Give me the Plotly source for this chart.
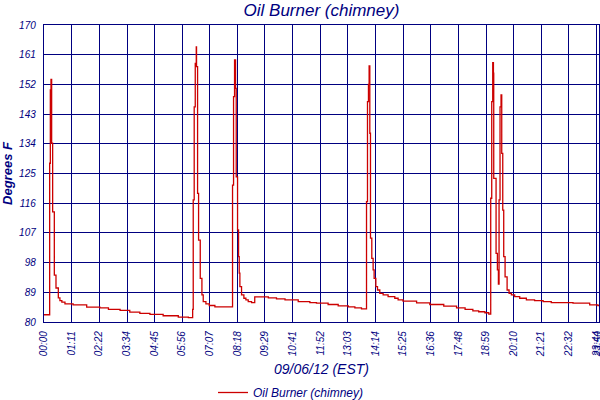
import plotly.graph_objects as go

# Time of reading (minutes after midnight) and chimney temperature (deg F)
minutes = [
    0, 14.6, 16.3, 18.0, 19.7, 22.3, 26.6, 30.9, 36.9, 41, 46, 54, 75, 110, 144, 166, 196,
    221, 247, 273, 307, 346, 372,
    383, 384.5, 387, 389.7, 392.3, 393, 395.7, 398.3, 402.6, 406.9, 410.3, 417.2, 425.8, 440.3,
    485.8, 488.4, 491, 493.6, 495.3, 498.7, 501.3, 503, 504.7, 509, 515, 520.2, 526.2, 534.8,
    543, 578, 599, 621, 655, 685, 702, 732, 758, 784, 801, 818,
    831, 833.5, 836, 837.7, 839.5, 841.2, 844.6, 848, 850.6, 855, 859.3, 865.2, 873.8, 886.6,
    903.8, 912.4, 925, 960, 994, 1030, 1063, 1085, 1105, 1120, 1136, 1146,
    1151, 1153.6, 1156.2, 1158, 1158.8, 1164.8, 1168.2, 1170.8, 1172.5, 1175, 1177.6, 1179.4,
    1182, 1184.5, 1188, 1193.2, 1198.3, 1204.3, 1212.8, 1225.7, 1242.9, 1264, 1286, 1307,
    1363, 1406, 1427, 1430,
]
temps_f = [
    82.2, 128.1, 150.3, 153.5, 134.2, 113.4, 94.2, 90.3, 87.3, 86.5, 86.0, 85.5, 85.2, 84.5, 84.3, 83.8, 83.5,
    83.0, 82.6, 82.3, 81.9, 81.5, 81.3,
    83.8, 117.0, 145.2, 158.4, 163.4, 157.4, 119.0, 104.8, 93.2, 88.2, 86.2, 85.5, 85.0, 84.6,
    121.5, 148.3, 159.4, 150.8, 124.0, 107.9, 99.8, 94.8, 90.7, 88.2, 87.2, 86.7, 86.2, 85.9,
    87.6, 87.3, 87.0, 86.7, 86.2, 85.9, 85.7, 85.3, 84.9, 84.6, 84.3, 84.0,
    116.5, 146.8, 152.0, 157.6, 137.2, 105.4, 99.3, 95.8, 93.2, 90.7, 89.7, 88.7, 88.2, 87.7,
    87.2, 86.7, 86.3, 85.8, 85.3, 84.8, 84.3, 83.8, 83.4, 83.1, 82.8, 82.4,
    117.5, 146.8, 158.6, 155.4, 123.5, 100.8, 95.8, 91.5, 117.0, 145.2, 148.8, 131.1,
    113.9, 99.8, 93.7, 89.7, 88.7, 88.2, 87.7, 87.2, 86.7, 86.5, 86.2, 85.9,
    85.7, 85.2, 85.0, 85.0,
]

tick_labels = ["00:00", "01:11", "02:22", "03:34", "04:45", "05:56", "07:07", "08:18",
               "09:29", "10:41", "11:52", "13:03", "14:14", "15:25", "16:36", "17:48",
               "18:59", "20:10", "21:21", "22:32", "23:44", "23:50"]
y_ticks = [80, 89, 98, 107, 116, 125, 134, 143, 152, 161, 170]

tick_vals = [int(s[:2]) * 60 + int(s[3:]) for s in tick_labels]

NAVY = "#000080"
FONT = "Liberation Sans"

fig = go.Figure()
fig.add_trace(go.Scatter(
    x=minutes, y=temps_f, mode="lines", line_shape="hv",
    line=dict(color="#cc0000", width=1.3),
    name="Oil Burner (chimney)",
))

fig.update_layout(
    width=600, height=400,
    paper_bgcolor="white", plot_bgcolor="white",
    margin=dict(l=44, r=1, t=25, b=78, autoexpand=False),
    font=dict(family=FONT, color=NAVY, style="italic"),
    title=dict(text="Oil Burner (chimney)", x=0.5, xref="paper", xanchor="center",
               y=1 - 10.5 / 400, yref="container", yanchor="middle", automargin=False,
               font=dict(family=FONT, size=17, color=NAVY, style="italic")),
    showlegend=True,
    legend=dict(orientation="h", xref="container", x=0.485, xanchor="center",
                yref="container", y=1 - 378 / 400, yanchor="top",
                font=dict(family=FONT, size=12, color=NAVY, style="italic"),
                bgcolor="rgba(0,0,0,0)"),
    xaxis=dict(
        range=[0, tick_vals[-1]], tickmode="array", tickvals=tick_vals, ticktext=tick_labels,
        tickangle=-90, tickfont=dict(family=FONT, size=10, color=NAVY, style="italic"),
        showgrid=True, gridcolor=NAVY, gridwidth=1.4, zeroline=False,
        showline=True, linecolor=NAVY, linewidth=1.4, mirror=True, ticks="",
        ticklabelstandoff=4, ticklabeloverflow="allow", automargin=False,
        title=dict(text="09/06/12 (EST)", standoff=7,
                   font=dict(family=FONT, size=14, color=NAVY, style="italic")),
    ),
    yaxis=dict(
        range=[80, 170], tickmode="array", tickvals=y_ticks,
        ticktext=[str(v) for v in y_ticks],
        tickfont=dict(family=FONT, size=10, color=NAVY, style="italic"),
        showgrid=True, gridcolor=NAVY, gridwidth=1.4, zeroline=False,
        showline=True, linecolor=NAVY, linewidth=1.4, mirror=True, ticks="",
        ticklabelstandoff=5, automargin=False,
        title=dict(text="Degrees F", standoff=5,
                   font=dict(family=FONT, size=13, color=NAVY, style="italic", weight="bold")),
    ),
)

fig.write_html("out.html", config={"displayModeBar": False},
               post_script="document.body.style.margin='0';")
